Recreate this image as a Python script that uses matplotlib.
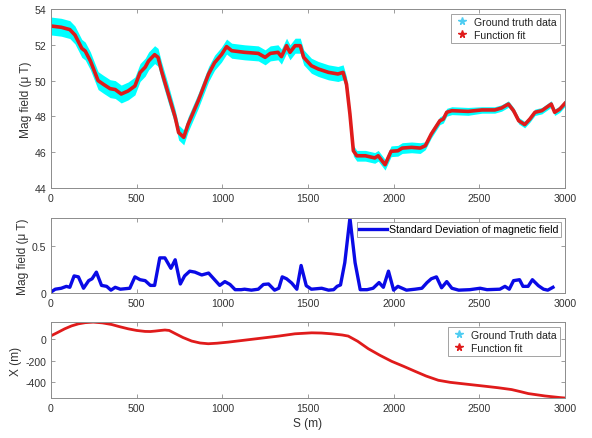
import matplotlib
matplotlib.use("Agg")
import matplotlib.pyplot as plt
from matplotlib.lines import Line2D

plt.rcParams['font.family'] = ['Liberation Sans', 'DejaVu Sans']
plt.rcParams['axes.unicode_minus'] = False

# top panel: magnetic field along the path (function fit), plus spread of ground truth
mag_s = [0, 60, 110, 140, 180, 200, 230, 275, 305, 345, 375, 410, 450, 490, 520,
         550, 570, 605, 625, 645, 685, 725, 745, 775, 800, 860, 920, 955, 995, 1025,
         1055, 1130, 1210, 1250, 1280, 1325, 1345, 1375, 1395, 1425, 1455, 1475,
         1520, 1560, 1620, 1675, 1705, 1725, 1745, 1765, 1785, 1835, 1890, 1910,
         1950, 1985, 2025, 2050, 2105, 2155, 2185, 2220, 2270, 2290, 2310, 2340,
         2435, 2515, 2590, 2630, 2670, 2700, 2730, 2765, 2795, 2825, 2865, 2920,
         2940, 2970, 3000]
mag_fit = [53.05, 52.98, 52.85, 52.55, 51.8, 51.65, 51.1, 50.0, 49.8, 49.55, 49.5,
           49.25, 49.42, 49.7, 50.45, 50.75, 51.1, 51.45, 51.3, 50.55, 49.25, 47.95,
           47.1, 46.83, 47.55, 48.88, 50.37, 51.0, 51.45, 51.9, 51.67, 51.58, 51.52,
           51.3, 51.52, 51.58, 51.34, 51.95, 51.58, 51.95, 51.95, 51.3, 50.83, 50.65,
           50.46, 50.37, 50.46, 49.8, 48.13, 46.08, 45.8, 45.8, 45.68, 45.8, 45.3,
           46.05, 46.08, 46.23, 46.27, 46.23, 46.36, 47.02, 47.76, 47.85, 48.23,
           48.32, 48.28, 48.36, 48.36, 48.47, 48.69, 48.32, 47.76, 47.54, 47.85,
           48.23, 48.32, 48.69, 48.23, 48.41, 48.73]
gt_spread = [0.5] * 21 + [0.42] * 27 + [0.3] * 12 + [0.22] * 7 + [0.18] * 14

# middle panel: standard deviation of magnetic field
std_s = [0, 25, 60, 90, 110, 135, 160, 190, 220, 240, 265, 295, 325, 350, 375, 405,
         460, 490, 520, 550, 580, 605, 635, 665, 700, 725, 755, 780, 810, 840, 880,
         920, 955, 985, 1015, 1045, 1075, 1110, 1130, 1170, 1210, 1240, 1270, 1305,
         1330, 1350, 1375, 1405, 1435, 1460, 1490, 1520, 1580, 1620, 1650, 1670,
         1690, 1715, 1745, 1775, 1805, 1845, 1880, 1915, 1940, 1970, 2000, 2025,
         2075, 2125, 2165, 2195, 2220, 2250, 2280, 2310, 2340, 2380, 2445, 2505,
         2545, 2620, 2650, 2675, 2700, 2735, 2755, 2785, 2810, 2845, 2875, 2900, 2930]
std_val = [0.01, 0.04, 0.05, 0.07, 0.06, 0.18, 0.17, 0.05, 0.13, 0.15, 0.22, 0.08,
           0.07, 0.03, 0.06, 0.04, 0.05, 0.17, 0.14, 0.13, 0.08, 0.08, 0.37, 0.37,
           0.26, 0.35, 0.095, 0.18, 0.23, 0.22, 0.19, 0.21, 0.14, 0.08, 0.12, 0.09,
           0.035, 0.035, 0.04, 0.03, 0.04, 0.09, 0.095, 0.03, 0.05, 0.17, 0.15, 0.105,
           0.04, 0.29, 0.077, 0.04, 0.05, 0.03, 0.035, 0.07, 0.085, 0.32, 0.79, 0.32,
           0.035, 0.035, 0.05, 0.11, 0.06, 0.23, 0.03, 0.07, 0.03, 0.04, 0.05, 0.11,
           0.15, 0.17, 0.055, 0.12, 0.05, 0.03, 0.035, 0.05, 0.035, 0.04, 0.07, 0.04,
           0.13, 0.14, 0.07, 0.07, 0.14, 0.077, 0.04, 0.03, 0.06]

# bottom panel: X coordinate along the path
x_s = [0, 40, 80, 120, 160, 200, 247, 300, 354, 400, 451, 500, 549, 580, 607, 640,
       665, 690, 724, 770, 821, 870, 918, 970, 1035, 1130, 1230, 1330, 1424, 1522,
       1580, 1638, 1700, 1735, 1790, 1852, 1920, 1989, 2060, 2125, 2190, 2261, 2330,
       2397, 2465, 2533, 2610, 2689, 2740, 2786, 2883, 2971, 3000]
x_val = [30, 62, 95, 122, 141, 152, 157, 150, 135, 115, 95, 80, 71, 70, 74, 80, 84,
         80, 52, 15, -18, -36, -43, -38, -28, -10, 9, 28, 49, 58, 56, 49, 38, 28, -20,
         -89, -150, -206, -253, -298, -342, -381, -400, -412, -424, -436, -450, -467,
         -486, -504, -526, -541, -545]

CYAN = '#00ffff'
RED = '#e01b1b'
BLUE = '#0a0ae6'
STAR_BLUE = '#4fcdf2'
FS = 7.6
LFS = 8.6
SPINE = '#8c8c8c'
TXT = '#333333'


def style(ax):
    ax.tick_params(direction='in', top=True, right=True, labelsize=FS,
                   colors=SPINE, labelcolor=TXT, length=3, width=0.6)
    for sp in ax.spines.values():
        sp.set_color(SPINE)
        sp.set_linewidth(0.7)
    ax.set_xlim(0, 3000)
    ax.set_xticks([0, 500, 1000, 1500, 2000, 2500, 3000])


def star_legend(ax, labels):
    handles = [Line2D([], [], ls='none', marker='*', ms=5.5, color=STAR_BLUE),
               Line2D([], [], ls='none', marker='*', ms=5.5, color=RED)]
    leg = ax.legend(handles, labels, loc='upper right', fontsize=FS, fancybox=False,
                    edgecolor=SPINE, handlelength=1.4, handletextpad=0.5,
                    borderpad=0.3, labelspacing=0.25, borderaxespad=0.45)
    leg.get_frame().set_linewidth(0.7)
    for t in leg.get_texts():
        t.set_color('#222222')


fig = plt.figure(figsize=(5.92, 4.39), dpi=100)
ax1 = fig.add_axes([0.0861, 0.5695, 0.8682, 0.4077])
ax2 = fig.add_axes([0.0861, 0.3303, 0.8682, 0.1708])
ax3 = fig.add_axes([0.0861, 0.0911, 0.8682, 0.1731])

lo = [v - d for v, d in zip(mag_fit, gt_spread)]
hi = [v + d for v, d in zip(mag_fit, gt_spread)]
ax1.fill_between(mag_s, lo, hi, color=CYAN, lw=0)
ax1.plot(mag_s, mag_fit, color=RED, lw=2.6)
ax1.set_ylim(44, 54)
ax1.set_yticks([44, 46, 48, 50, 52, 54])
ax1.set_ylabel('Mag field (\u03bc T)', fontsize=LFS, color=TXT, labelpad=2)
style(ax1)
star_legend(ax1, ['Ground truth data', 'Function fit'])

ax2.plot(std_s, std_val, color=BLUE, lw=2.4,
         label='Standard Deviation of magnetic field')
ax2.set_ylim(0, 0.79)
ax2.set_yticks([0, 0.5])
ax2.set_yticklabels(['0', '0.5'])
ax2.set_ylabel('Mag field (\u03bc T)', fontsize=LFS, color=TXT, labelpad=2)
style(ax2)
leg = ax2.legend(loc='upper right', fontsize=FS, fancybox=False, edgecolor=SPINE,
                 handlelength=2.6, handletextpad=0.25, borderpad=0.25,
                 borderaxespad=0.35)
leg.get_frame().set_linewidth(0.7)

ax3.plot(x_s, x_val, color=RED, lw=2.0)
ax3.set_ylim(-545, 158)
ax3.set_yticks([-400, -200, 0])
ax3.set_ylabel('X (m)', fontsize=LFS, color=TXT, labelpad=2)
ax3.set_xlabel('S (m)', fontsize=LFS, color=TXT, labelpad=3)
style(ax3)
star_legend(ax3, ['Ground Truth data', 'Function fit'])

fig.savefig('out.png', dpi=100)
